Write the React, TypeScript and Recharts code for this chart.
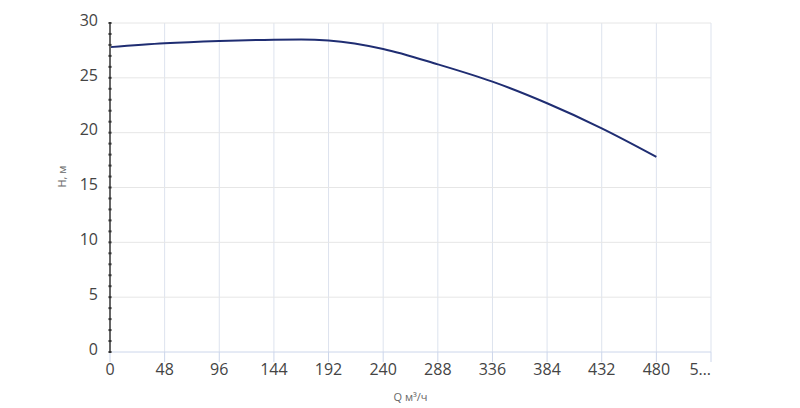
import { LineChart, Line, XAxis, YAxis, CartesianGrid } from "recharts";

// Q, м³/ч
const flowQ = [0, 48, 96, 144, 168, 192, 240, 288, 336, 384, 432, 480];
// H, м
const headH = [27.8, 28.15, 28.36, 28.48, 28.5, 28.4, 27.63, 26.23, 24.65, 22.68, 20.4, 17.8];
const xTicks = [0, 48, 96, 144, 192, 240, 288, 336, 384, 432, 480, 528];
const yTicks = Array.from({ length: 31 }, (_, i) => i);

const data = flowQ.map((q, i) => ({ q, h: headH[i] }));

const font = "'Open Sans', sans-serif";

const YTick = (props: any) => {
  const { x, y, payload } = props;
  const major = payload.value % 5 === 0;
  return (
    <g>
      <rect x={x + 12 - 1.5} y={y - 1} width={3} height={2} fill="#333" />
      {major && (
        <text x={x} y={y + 2.7} textAnchor="end" fill="#444" fontSize={16} fontFamily={font}>
          {payload.value}
        </text>
      )}
    </g>
  );
};

// the last label is cut short, as in the original
const XTick = (props: any) => {
  const { x, y, payload } = props;
  const last = payload.value === 528;
  return (
    <text
      x={last ? x : x}
      y={y + 11.4}
      textAnchor={last ? "end" : "middle"}
      fill="#444"
      fontSize={16}
      fontFamily={font}
    >
      {last ? "5…" : payload.value}
    </text>
  );
};

export default function App() {
  return (
    <div style={{ position: "absolute", left: 0, top: 0, width: 800, height: 408, background: "#fff" }}>
      <LineChart width={800} height={408} data={data} margin={{ top: 23, right: 89, left: 0, bottom: 0 }}>
        <CartesianGrid horizontal={false} stroke="#dde3ee" />
        <CartesianGrid vertical={false} stroke="#e6e6e6" horizontalValues={[5, 10, 15, 20, 25, 30]} />
        <XAxis
          dataKey="q"
          type="number"
          domain={[0, 528]}
          ticks={xTicks}
          interval={0}
          height={56}
          axisLine={{ stroke: "#ccd6eb" }}
          tickLine={{ stroke: "#ccd6eb" }}
          tickSize={10}
          tickMargin={2}
          tick={<XTick />}
          label={{ value: "Q м³/ч", position: "insideBottom", offset: 7, fill: "#666", fontSize: 11, fontFamily: font }}
        />
        <YAxis
          type="number"
          domain={[0, 30]}
          ticks={yTicks}
          interval={0}
          width={110}
          axisLine={{ stroke: "#666", strokeWidth: 2 }}
          tickLine={false}
          tickSize={0}
          tickMargin={12}
          tick={<YTick />}
          label={{ value: "H, м", angle: -90, position: "insideLeft", offset: 62, fill: "#666", fontSize: 11, fontFamily: font }}
        />
        <Line
          type="monotone"
          dataKey="h"
          stroke="#1f2d72"
          strokeWidth={2}
          dot={false}
          isAnimationActive={false}
        />
      </LineChart>
    </div>
  );
}
